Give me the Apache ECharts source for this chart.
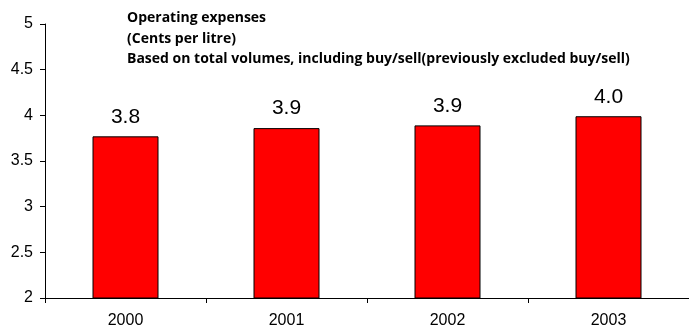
<!DOCTYPE html>
<html><head><meta charset="utf-8">
<script src="https://cdn.jsdelivr.net/npm/echarts@6/dist/echarts.min.js"></script>
<style>html,body{margin:0;padding:0;background:#fff}#c{width:689px;height:329px}</style>
</head><body><div id="c"></div>
<script>
const categories = ['2000', '2001', '2002', '2003'];
const values = [3.77, 3.86, 3.89, 3.99];
const titleLines = ['Operating expenses', '(Cents per litre)', 'Based on total volumes, including buy/sell(previously excluded buy/sell)'];
const yMin = 2, yMax = 5, yStep = 0.5;

const chart = echarts.init(document.getElementById('c'), null, {renderer: 'canvas'});
chart.setOption({
  animation: false,
  backgroundColor: '#fff',
  title: {
    text: titleLines.join('\n'),
    left: 122, top: 3,
    textStyle: {fontFamily: 'Open Sans', fontWeight: 'bold', fontSize: 14, color: '#000', lineHeight: 20.5}
  },
  grid: {left: 45, top: 24, width: 652, height: 276, containLabel: false},
  xAxis: {
    type: 'category', data: categories,
    axisLine: {lineStyle: {color: '#000', width: 1}},
    axisTick: {show: true, alignWithLabel: false, length: 5, lineStyle: {color: '#000'}},
    axisLabel: {color: '#000', fontFamily: 'Liberation Sans', fontSize: 16, margin: 15}
  },
  yAxis: {
    type: 'value', min: yMin, max: yMax, interval: yStep,
    splitLine: {show: false},
    axisLine: {show: true, lineStyle: {color: '#000', width: 1}},
    axisTick: {show: true, length: 5, lineStyle: {color: '#000'}},
    axisLabel: {color: '#000', fontFamily: 'Liberation Sans', fontSize: 16, margin: 12}
  },
  series: [{
    type: 'bar', data: values, barWidth: 66,
    itemStyle: {color: '#FF0000', borderColor: '#000', borderWidth: 1},
    label: {show: true, position: 'top', distance: 9, color: '#000', fontFamily: 'Liberation Sans', fontSize: 21,
      formatter: p => p.value.toFixed(1)}
  }]
});
</script></body></html>
